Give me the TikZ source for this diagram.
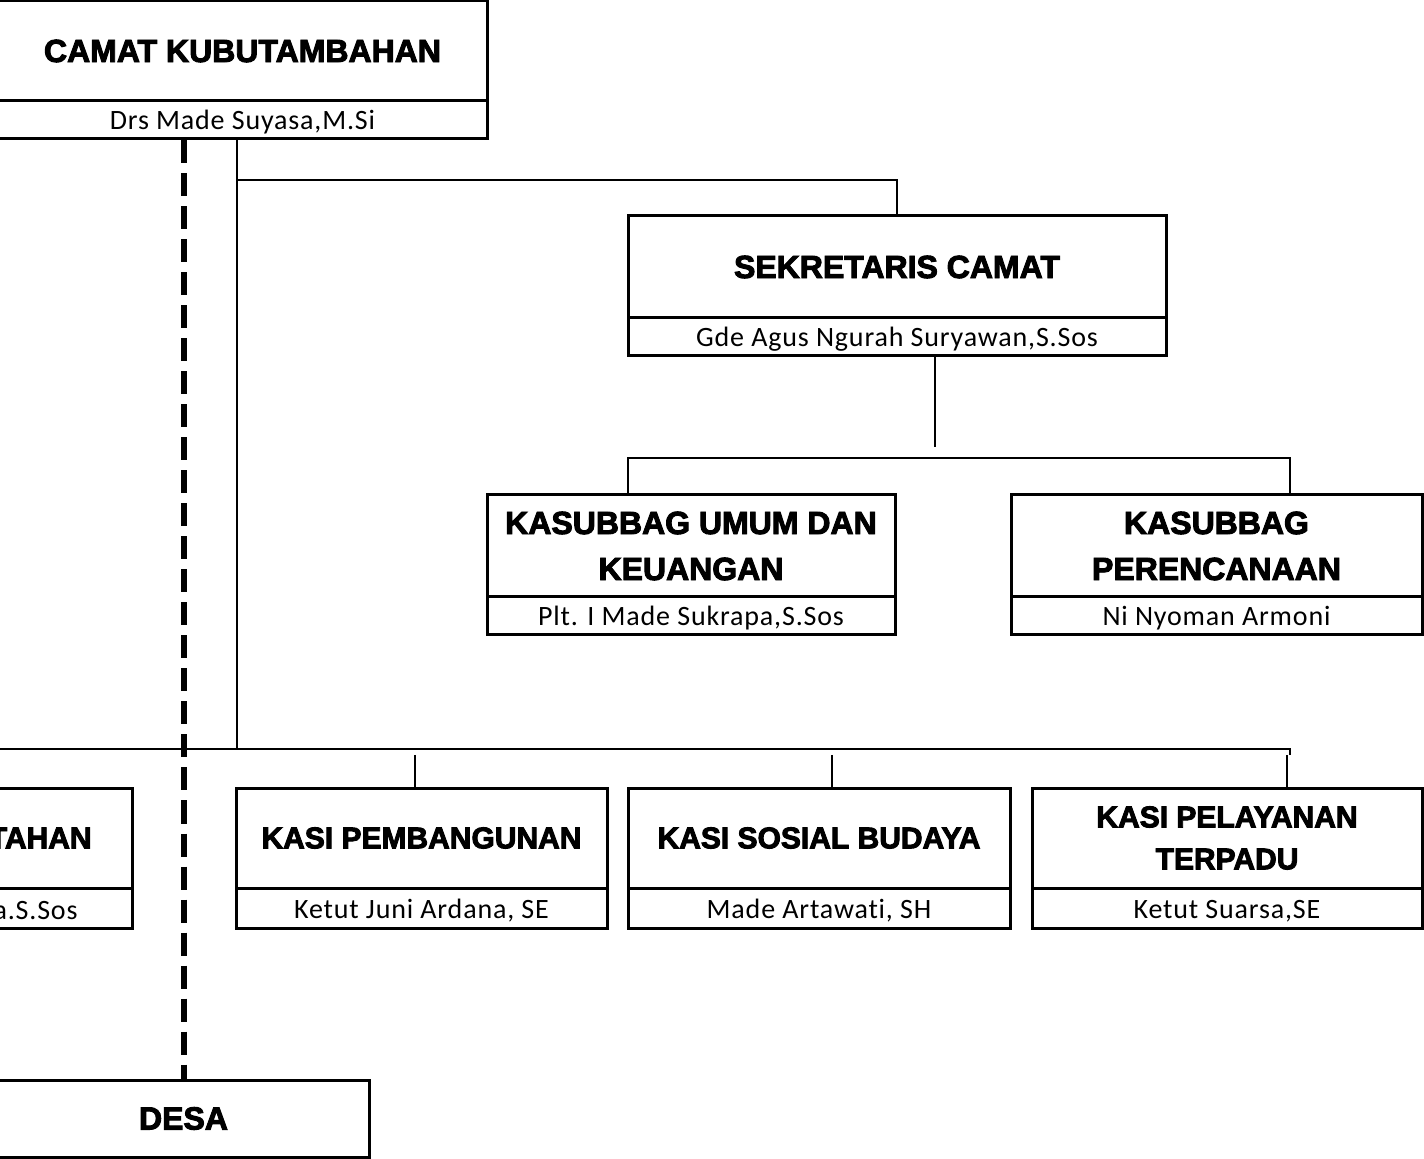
\documentclass[tikz,border=0pt]{standalone}
\usepackage{fontspec}
\newfontfamily\ttlfont[FakeBold=3]{Liberation Sans Bold}
\newfontfamily\nmfont[LetterSpace=3,Ligatures=NoCommon]{Carlito}
\begin{document}
\begin{tikzpicture}[x=0.5pt,y=-0.5pt,
  boxstyle/.style={draw, line width=1.5pt, inner sep=0pt, align=center, font=\ttlfont\fontsize{16}{23}\selectfont},
  kasistyle/.style={boxstyle, font=\ttlfont\fontsize{15}{21}\selectfont},
  namestyle/.style={draw, line width=1.5pt, inner sep=0pt, align=center, text height=10pt, text depth=0pt, font=\nmfont\fontsize{14}{16}\selectfont},
  conn/.style={line width=1.3pt},
  dashconn/.style={line width=3pt, dash pattern=on 11.5pt off 5pt}]
\useasboundingbox (0,0) rectangle (1424,1159);
\clip (0,0) rectangle (1424,1159);
% Camat
\node[boxstyle, minimum width=244.5pt, minimum height=50pt] (camat) at (242.5,51) {CAMAT KUBUTAMBAHAN};
\node[namestyle, minimum width=244.5pt, minimum height=19pt] (camatn) at (242.5,120) {Drs Made Suyasa,M.Si};
% Sekretaris
\node[boxstyle, minimum width=269pt, minimum height=51pt] (sek) at (897,267) {SEKRETARIS CAMAT};
\node[namestyle, minimum width=269pt, minimum height=19pt] (sekn) at (897,337) {Gde Agus Ngurah Suryawan,S.Sos};
% Kasubbag
\node[boxstyle, minimum width=204pt, minimum height=51pt] (umum) at (691,546) {KASUBBAG UMUM DAN\\KEUANGAN};
\node[namestyle, minimum width=204pt, minimum height=19pt] (umumn) at (691,616) {Plt. I Made Sukrapa,S.Sos};
\node[boxstyle, minimum width=205.5pt, minimum height=51pt] (renc) at (1216.5,546) {KASUBBAG\\PERENCANAAN};
\node[namestyle, minimum width=205.5pt, minimum height=19pt] (rencn) at (1216.5,616) {Ni Nyoman Armoni};
% Kasi
\node[kasistyle, minimum width=116pt, minimum height=50pt] (pem) at (16,838) {};
\node[namestyle, minimum width=116pt, minimum height=20pt] (pemn) at (16,908) {};
\node[font=\ttlfont\fontsize{15}{21}\selectfont, anchor=east, inner sep=0pt] (pemt) at (92,838) {TAHAN};
\node[font=\nmfont\fontsize{14}{16}\selectfont, anchor=base east, inner sep=0pt] (pemnt) at (78,919) {a.S.Sos};
\node[kasistyle, minimum width=185.5pt, minimum height=50pt] (bang) at (421.5,838) {KASI PEMBANGUNAN};
\node[namestyle, minimum width=185.5pt, minimum height=20pt] (bangn) at (421.5,908) {Ketut Juni Ardana, SE};
\node[kasistyle, minimum width=191pt, minimum height=50pt] (sos) at (819,838) {KASI SOSIAL BUDAYA};
\node[namestyle, minimum width=191pt, minimum height=20pt] (sosn) at (819,908) {Made Artawati, SH};
\node[kasistyle, minimum width=195pt, minimum height=50pt] (pel) at (1227,838) {KASI PELAYANAN\\TERPADU};
\node[namestyle, minimum width=195pt, minimum height=20pt] (peln) at (1227,908) {Ketut Suarsa,SE};
% Desa
\node[boxstyle, minimum width=185.5pt, minimum height=38.5pt] (desa) at (183.5,1118.5) {DESA};
% coordinates
\coordinate (bustop) at (237,139);
\coordinate (busbot) at (237,749);
\coordinate (busL) at (0,749);
\coordinate (busR) at (1290,749);
\coordinate (sekturn) at (237,180);
\coordinate (sekdrop) at (935,447);
\coordinate (subL) at (628,458);
\coordinate (subR) at (1290,458);
% connectors
\draw[dashconn] (desa.north |- camatn.south) -- (desa.north);
\draw[conn] (bustop) -- (busbot);
\draw[conn] (busL) -- (busR) -- ++(0,6);
\draw[conn] (sekturn) -| (sek.north);
\draw[conn] (sekn.south -| sekdrop) -- (sekdrop);
\draw[conn] (umum.north -| subL) |- (subR) -- (renc.north -| subR);
\draw[conn] (415,755) -- (bang.north -| 415,0);
\draw[conn] (832,755) -- (sos.north -| 832,0);
\draw[conn] (1287,755) -- (pel.north -| 1287,0);
\end{tikzpicture}
\end{document}
